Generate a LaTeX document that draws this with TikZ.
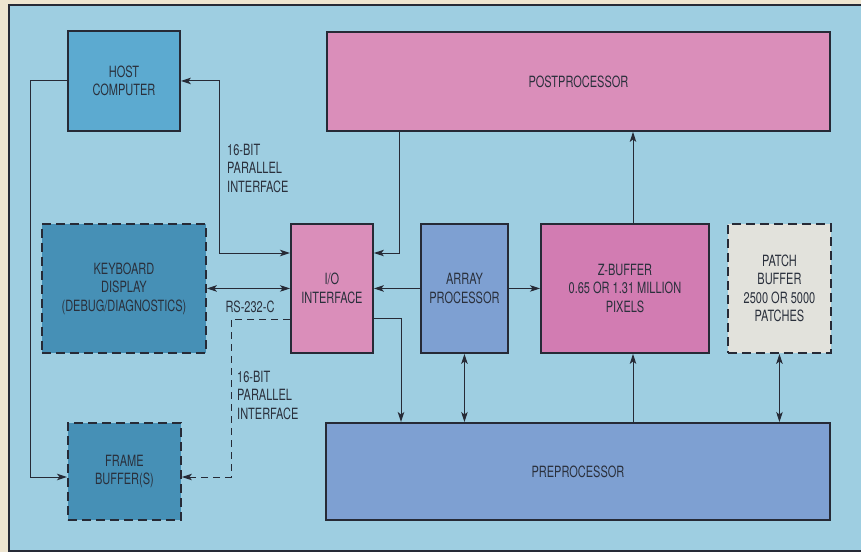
\documentclass[tikz,border=0pt]{standalone}
\usepackage{fontspec}
\setmainfont{TeX Gyre Heros}[FakeStretch=0.71]
\usetikzlibrary{arrows.meta}
\definecolor{beige}{RGB}{238,229,208}
\definecolor{bgblue}{RGB}{158,206,225}
\definecolor{edge}{RGB}{38,42,54}
\definecolor{txt}{RGB}{42,48,60}
\definecolor{hostc}{RGB}{92,170,208}
\definecolor{darkc}{RGB}{70,144,182}
\definecolor{pinkc}{RGB}{218,142,186}
\definecolor{magc}{RGB}{210,124,178}
\definecolor{lavc}{RGB}{126,160,210}
\definecolor{greyc}{RGB}{226,226,220}
\tikzset{
  blk/.style={draw=edge, line width=1.9pt, inner sep=0pt, align=center,
    anchor=north west, font=\fontsize{15.5}{18.5}\selectfont, text=txt},
  dblk/.style={blk, dash pattern=on 9pt off 5pt},
  conn/.style={draw=edge, line width=1pt, >={Stealth[length=10pt,width=6.5pt,inset=2.5pt]}},
  lbl/.style={font=\fontsize{15.5}{18.5}\selectfont, text=txt, inner sep=0pt}
}
\begin{document}
\begin{tikzpicture}[x=1pt,y=-1pt]
\clip (0,0) rectangle (861,552);
\fill[beige] (0,0) rectangle (861,552);
\fill[bgblue] (9,5) rectangle (861,551);
\draw[draw=edge, line width=1.6pt] (861,5) -- (9,5) -- (9,551) -- (861,551);

\node[blk, fill=hostc, minimum width=112pt, minimum height=100pt] (host) at (67,30) {HOST\\COMPUTER};
\node[dblk, fill=darkc, minimum width=164pt, minimum height=129pt] (kb) at (41,223) {KEYBOARD\\DISPLAY\\(DEBUG/DIAGNOSTICS)};
\node[dblk, fill=darkc, minimum width=113pt, minimum height=97pt] (fb) at (67,422) {FRAME\\BUFFER(S)};
\node[blk, fill=pinkc, minimum width=82pt, minimum height=129pt] (io) at (290,223) {I/O\\INTERFACE};
\node[blk, fill=lavc, minimum width=87pt, minimum height=129pt] (arr) at (420,223) {ARRAY\\PROCESSOR};
\node[blk, fill=magc, minimum width=168pt, minimum height=129pt] (zb) at (540,223) {Z-BUFFER\\0.65 OR 1.31 MILLION\\PIXELS};
\node[dblk, fill=greyc, minimum width=103pt, minimum height=129pt] (patch) at (727,223) {PATCH\\BUFFER\\2500 OR 5000\\PATCHES};
\node[blk, fill=pinkc, minimum width=503pt, minimum height=99pt] (post) at (326,31) {POSTPROCESSOR};
\node[blk, fill=lavc, minimum width=504pt, minimum height=97pt] (pre) at (325,422) {PREPROCESSOR};

\node[lbl, anchor=west, align=left] (l1) at (227,168) {16-BIT\\PARALLEL\\INTERFACE};
\node[lbl] (l2) at (250,307) {RS-232-C};
\node[lbl, anchor=west, align=left] (l3) at (237,395) {16-BIT\\PARALLEL\\INTERFACE};

\draw[conn,->] (host.west) -| (30,477) -- (fb.west |- 30,477);
\draw[conn,<->] (host.east) -| (219,253) -- (io.west |- 219,253);
\draw[conn,<->] (kb.east) -- (io.west);
\draw[conn,->,dash pattern=on 7pt off 5pt] (io.west |- 0,319) -| (231,477) -- (fb.east |- 0,477);
\draw[conn,->] (post.south -| 399,0) |- (io.east |- 0,253);
\draw[conn,->] (arr.west) -- (io.east);
\draw[conn,->] (arr.east) -- (zb.west);
\draw[conn,->] (io.east |- 0,318) -| (pre.north -| 401,0);
\draw[conn,<->] (arr.south) -- (pre.north -| arr.south);
\draw[conn,->] (pre.north -| 633,0) -- (zb.south -| 633,0);
\draw[conn,->] (zb.north -| 633,0) -- (post.south -| 633,0);
\draw[conn,<->] (patch.south) -- (pre.north -| patch.south);
\end{tikzpicture}
\end{document}
